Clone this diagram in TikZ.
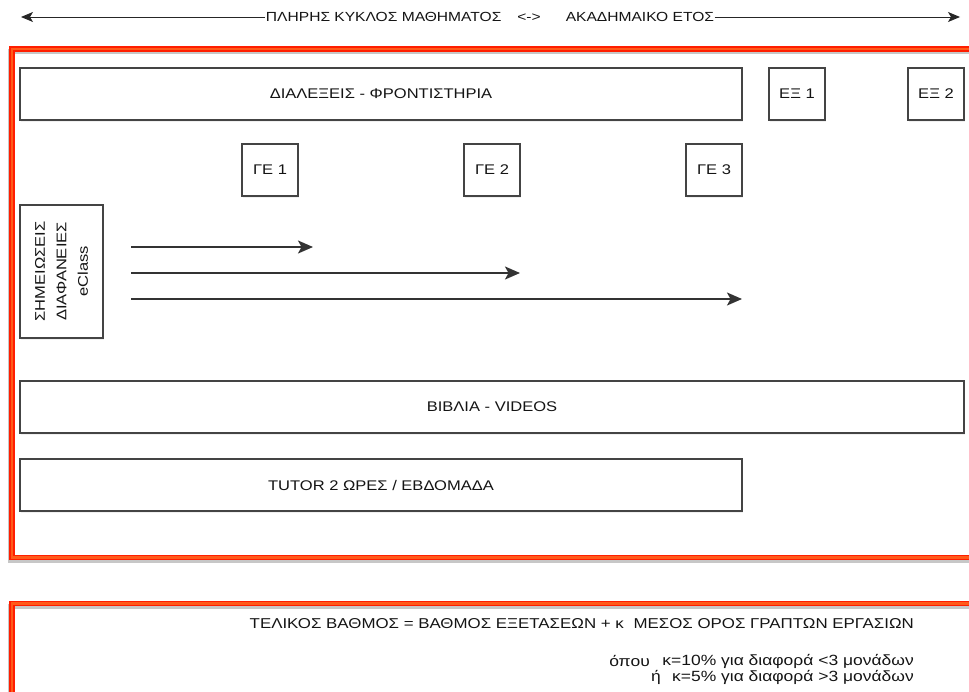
\documentclass[tikz,border=0pt]{standalone}
\usepackage{fontspec}
\setmainfont{Liberation Sans}
\newfontfamily\labfont[FakeStretch=1.18]{Liberation Sans}
\usetikzlibrary{arrows.meta,shadows}
\definecolor{frred}{HTML}{FF1E00}
\definecolor{frorange}{HTML}{FF5A1A}
\definecolor{boxgray}{HTML}{444444}
\definecolor{arrgray}{HTML}{333333}
\begin{document}
\begin{tikzpicture}[x=1pt,y=-1pt,
  lab/.style={font=\labfont\fontsize{14}{17}\selectfont,text=black!92},
  box/.style={lab,draw=boxgray,line width=1.3pt,fill=white,inner sep=0pt,
    drop shadow={opacity=0.12,shadow xshift=1pt,shadow yshift=-2pt}},
  frameshadow/.style={line width=5pt,black,opacity=0.22},
  frameouter/.style={line width=5.5pt,frred},
  frameinner/.style={line width=2.4pt,frorange},
  flow/.style={arrgray,line width=1.8pt,-{Stealth[length=15pt,width=13pt,inset=3.5pt]}},
  span/.style={black!85,line width=0.9pt},
  plain/.style={lab,inner sep=0pt}
]
\useasboundingbox (0,0) rectangle (969,691);
\clip (0,0) rectangle (969,691);

% top span arrow
\node[lab,font=\labfont\fontsize{13.2}{16}\selectfont,inner sep=0.5pt] (span) at (490,17)
  {ΠΛΗΡΗΣ ΚΥΚΛΟΣ ΜΑΘΗΜΑΤΟΣ\hspace{16pt}<->\hspace{25pt}ΑΚΑΔΗΜΑΙΚΟ ΕΤΟΣ};
\coordinate (sl) at (21,17);
\coordinate (sr) at (960,17);
\draw[span,{Stealth[length=12pt,width=10pt,inset=3pt]}-] (sl) -- (span.west);
\draw[span,-{Stealth[length=12pt,width=10pt,inset=3pt]}] (span.east) -- (sr);

% red frames
\draw[frameshadow] (10.5,51.5) rectangle (995,560);
\draw[frameouter] (12,49) rectangle (995,557.5);
\draw[frameinner] (12,49) rectangle (995,557.5);

\draw[frameshadow] (10.5,606) rectangle (995,730);
\draw[frameouter] (12,603.5) rectangle (995,730);
\draw[frameinner] (12,603.5) rectangle (995,730);

% boxes
\node[box,minimum width=722pt,minimum height=52pt] (lect) at (381,94) {ΔΙΑΛΕΞΕΙΣ - ΦΡΟΝΤΙΣΤΗΡΙΑ};
\node[box,minimum width=56pt,minimum height=52pt] (ex1) at (797,94) {ΕΞ 1};
\node[box,minimum width=56pt,minimum height=52pt] (ex2) at (936,94) {ΕΞ 2};

\node[box,minimum width=56pt,minimum height=52pt] (ge1) at (270,170) {ΓΕ 1};
\node[box,minimum width=56pt,minimum height=52pt] (ge2) at (492,170) {ΓΕ 2};
\node[box,minimum width=56pt,minimum height=52pt] (ge3) at (714,170) {ΓΕ 3};

\node[box,minimum width=83pt,minimum height=133pt] (notes) at (61.5,271.5) {};
\node[lab,rotate=90,align=center,inner sep=0pt,font=\labfont\fontsize{14}{21.5}\selectfont] (notestext) at (notes.center)
  {ΣΗΜΕΙΩΣΕΙΣ\\ΔΙΑΦΑΝΕΙΕΣ\\eClass};

\node[box,minimum width=944pt,minimum height=52pt] (books) at (492,407) {ΒΙΒΛΙΑ - VIDEOS};
\node[box,minimum width=722pt,minimum height=52pt] (tutor) at (381,485) {TUTOR 2 ΩΡΕΣ / ΕΒΔΟΜΑΔΑ};

% arrows
\coordinate (a1s) at (131,247);
\coordinate (a1e) at (313,247);
\coordinate (a2s) at (131,273);
\coordinate (a2e) at (520,273);
\coordinate (a3s) at (131,299);
\coordinate (a3e) at (742,299);
\draw[flow] (a1s) -- (a1e);
\draw[flow] (a2s) -- (a2e);
\draw[flow] (a3s) -- (a3e);

% formula
\node[plain,anchor=east,font=\labfont\fontsize{14.3}{17}\selectfont] (formula) at (914,624)
  {ΤΕΛΙΚΟΣ ΒΑΘΜΟΣ = ΒΑΘΜΟΣ ΕΞΕΤΑΣΕΩΝ + κ\hspace{5pt} ΜΕΣΟΣ ΟΡΟΣ ΓΡΑΠΤΩΝ ΕΡΓΑΣΙΩΝ};
\node[plain,anchor=east,font=\labfont\fontsize{14.8}{17}\selectfont] (opou) at (650,661) {όπου};
\node[plain,anchor=east,font=\labfont\fontsize{14.8}{17}\selectfont] (k10) at (914,661) {κ=10\% για διαφορά <3 μονάδων};
\node[plain,font=\labfont\fontsize{14.8}{17}\selectfont] (i) at (656,677) {ή};
\node[plain,anchor=east,font=\labfont\fontsize{14.8}{17}\selectfont] (k5) at (914,677) {κ=5\% για διαφορά >3 μονάδων};
\end{tikzpicture}
\end{document}
